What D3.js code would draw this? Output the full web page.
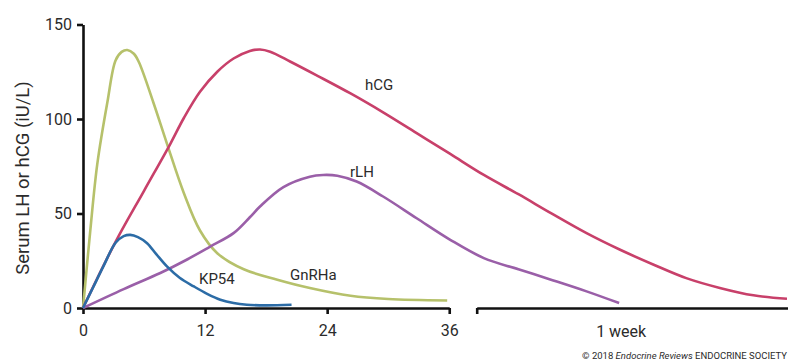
<!DOCTYPE html>
<html>
<head>
<meta charset="utf-8">
<script src="https://cdnjs.cloudflare.com/ajax/libs/d3/7.8.5/d3.min.js"></script>
<style>
    body { margin: 0; background: white; }
    svg text { font-family: Roboto, "Liberation Sans", sans-serif; fill: #2b2b2b; }
    .axis path, .axis line { stroke: #111; stroke-width: 2.6; }
</style>
</head>
<body>
<svg id="chart" width="788" height="362"></svg>
<script>
    // hours after dose vs serum LH/hCG (iU/L)
    const gnrha = [[0,0],[0.7,40],[1.4,76],[2.4,109],[3.2,131],[3.8,135.5],[4.35,136.5],[5.0,134.5],[5.5,130],
        [6.9,109],[8.25,87],[9.9,61],[11.5,41],[13.2,29],[15.8,20.5],[19.1,15],[22.3,10.6],[26.3,6.5],[30,4.8],[35.8,4]];
    const kp54 = [[0,0],[1,11],[2,22],[3.2,34.5],[4,38],[4.65,38.7],[5.4,37.5],[6.3,34.3],[7.2,28.5],[8.25,22],
        [9.5,16],[10.9,11.4],[12.2,7.5],[13.5,4.4],[14.8,2.6],[16.1,1.7],[18,1.4],[20.5,1.7]];
    const hcg = [[0,0],[3.2,35],[6,62],[8.6,87],[9.9,100.4],[11.5,114.4],[13.2,125],[14.8,132],[16.4,136],[17.4,136.8],
        [18.4,135.6],[20.4,130.3],[23,123],[26.3,113.5],[29.5,103.5],[32.8,92.5],[36.1,81.5],[39.4,70.4],[42.8,60.2],
        [46,50.2],[49.5,39.6],[52.8,30.8],[56.1,22.9],[59.3,15.8],[62.6,10.6],[65.9,6.7],[69.2,4.9]];
    const rlh = [[0,0],[4,10],[7.6,18.5],[10,25],[12.5,32.5],[14.8,39.6],[16.4,48],[17.4,53.7],[19.7,64],[22.3,69.5],
        [23.6,70.4],[25,70],[26.9,66.9],[29.5,59],[32.8,47.5],[36.1,36.1],[39.4,26.4],[42.8,20.5],[46,15],[49.5,8.8],[52.7,2.6]];

    const series = [
        {name: 'GnRHa', data: gnrha, color: '#b6c16b', lx: 290, ly: 280},
        {name: 'hCG', data: hcg, color: '#c8406a', lx: 365, ly: 90},
        {name: 'rLH', data: rlh, color: '#9a5fa8', lx: 350, ly: 177},
        {name: 'KP54', data: kp54, color: '#2c6ca6', lx: 199, ly: 284}
    ];
    const xTicks = [0, 12, 24, 36];
    const yTicks = [0, 50, 100, 150];
    const breakStart = 38.7;   // second axis segment (schematic "1 week")
    const weekLabelAt = 52.9;

    const svg = d3.select('#chart');
    const x = d3.scaleLinear().domain([0, 69.3]).range([83, 788]);
    const y = d3.scaleLinear().domain([0, 150]).range([308, 24.5]);

    // x axis, first part with hour ticks
    const x1 = x.copy().domain([0, 36]).range([x(0), x(36)]);
    svg.append('g').attr('class', 'axis')
        .attr('transform', `translate(0,${y(0)})`)
        .call(d3.axisBottom(x1).tickValues(xTicks).tickSizeInner(6).tickSizeOuter(0).tickPadding(11))
        .call(g => g.selectAll('text').style('font-size', '16px'));

    // x axis, second part after the break
    const x2 = x.copy().domain([breakStart, 69.3]).range([x(breakStart), x(69.3)]);
    svg.append('g').attr('class', 'axis')
        .attr('transform', `translate(0,${y(0)})`)
        .call(d3.axisBottom(x2).tickValues([breakStart]).tickFormat('').tickSizeInner(6).tickSizeOuter(0));
    svg.append('text')
        .attr('x', x(weekLabelAt)).attr('y', y(0) + 28.5)
        .attr('text-anchor', 'middle').style('font-size', '16px')
        .text('1 week');

    // y axis
    svg.append('g').attr('class', 'axis')
        .attr('transform', `translate(${x(0)},0)`)
        .call(d3.axisLeft(y).tickValues(yTicks).tickSizeInner(6).tickSizeOuter(0).tickPadding(5))
        .call(g => g.selectAll('text').style('font-size', '16px'));

    svg.append('text')
        .attr('transform', `translate(29,178) rotate(-90)`)
        .attr('text-anchor', 'middle').style('font-size', '18.5px')
        .text('Serum LH or hCG (iU/L)');

    const line = d3.line()
        .x(d => x(d[0]))
        .y(d => y(d[1]))
        .curve(d3.curveCatmullRom.alpha(0.5));

    series.forEach(s => {
        svg.append('path')
            .attr('d', line(s.data))
            .attr('fill', 'none')
            .attr('stroke', s.color)
            .attr('stroke-width', 2.6)
            .attr('stroke-linejoin', 'round');
        svg.append('text')
            .attr('x', s.lx).attr('y', s.ly)
            .style('font-size', '15px')
            .text(s.name);
    });

    // credit line
    const credit = svg.append('text')
        .attr('x', 787).attr('y', 359)
        .attr('text-anchor', 'end')
        .style('font-size', '9.5px');
    credit.append('tspan').text('\u00a9 2018 ');
    credit.append('tspan').style('font-style', 'italic').text('Endocrine Reviews');
    credit.append('tspan').text('  ENDOCRINE SOCIETY');
</script>
</body>
</html>
